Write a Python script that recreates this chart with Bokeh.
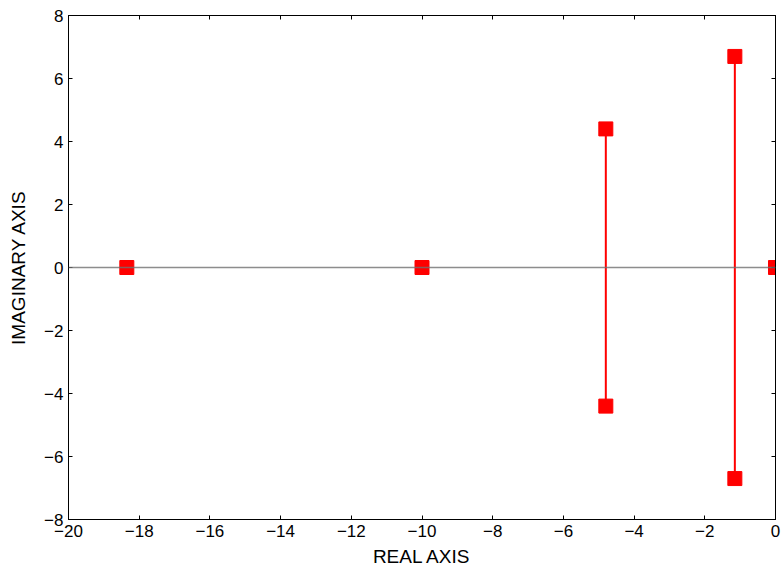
from bokeh.plotting import figure
from bokeh.models import LinearAxis, Span, FixedTicker, Range1d, CustomJSTickFormatter
from bokeh.embed import file_html
from bokeh.resources import INLINE

# Pole locations (real, imaginary)
pole_re = [-18.35, -10.0, -4.8, -4.8, -1.15, -1.15, 0.0]
pole_im = [0.0, 0.0, 4.4, -4.4, 6.7, -6.7, 0.0]

# Branches joining complex-conjugate pairs
branch_re = [-4.8, -1.15]
branch_im_top = [4.4, 6.7]
branch_im_bot = [-4.4, -6.7]

x_ticks = list(range(-20, 1, 2))
y_ticks = list(range(-8, 9, 2))

FONT = "Liberation Sans"

p = figure(width=784, height=571, output_backend="svg", toolbar_location=None,
           x_range=Range1d(-20, 0), y_range=Range1d(-8, 8),
           min_border_left=68, min_border_right=9, min_border_top=15, min_border_bottom=52,
           x_axis_label="REAL AXIS", y_axis_label="IMAGINARY AXIS")
p.frame_width = 707
p.frame_height = 504
p.grid.visible = False
p.outline_line_color = "black"
p.outline_line_width = 1
p.background_fill_color = "white"
p.border_fill_color = "white"

for ax in [p.xaxis[0], p.yaxis[0]]:
    ax.axis_line_color = "black"
    ax.major_tick_in = 4
    ax.major_tick_out = 0
    ax.minor_tick_in = 0
    ax.minor_tick_out = 0
    ax.major_label_text_font = FONT
    ax.major_label_text_font_size = "17px"
    ax.major_label_text_color = "black"
    ax.axis_label_text_font = FONT
    ax.axis_label_text_font_size = "19px"
    ax.axis_label_text_font_style = "normal"
    ax.axis_label_text_color = "black"
    ax.major_label_standoff = 5

p.xaxis[0].axis_label_standoff = 6
p.yaxis[0].axis_label_standoff = 12

p.xaxis[0].ticker = FixedTicker(ticks=x_ticks)
p.yaxis[0].ticker = FixedTicker(ticks=y_ticks)

blank = CustomJSTickFormatter(code="return ''")
top = LinearAxis(ticker=FixedTicker(ticks=x_ticks), formatter=blank,
                 major_tick_in=4, major_tick_out=0, minor_tick_in=0, minor_tick_out=0,
                 axis_line_color="black", major_label_standoff=0)
right = LinearAxis(ticker=FixedTicker(ticks=y_ticks), formatter=blank,
                   major_tick_in=4, major_tick_out=0, minor_tick_in=0, minor_tick_out=0,
                   axis_line_color="black", major_label_standoff=0)
p.add_layout(top, "above")
p.add_layout(right, "right")

p.segment(x0=branch_re, y0=branch_im_bot, x1=branch_re, y1=branch_im_top,
          line_color="red", line_width=2)
p.scatter(pole_re, pole_im, marker="square", size=14, fill_color="red", line_color="red")

p.add_layout(Span(location=0, dimension="width", line_color="#707070", line_alpha=0.8,
                  line_width=1.5, level="overlay"))

open("out.html", "w").write(file_html(p, INLINE))
